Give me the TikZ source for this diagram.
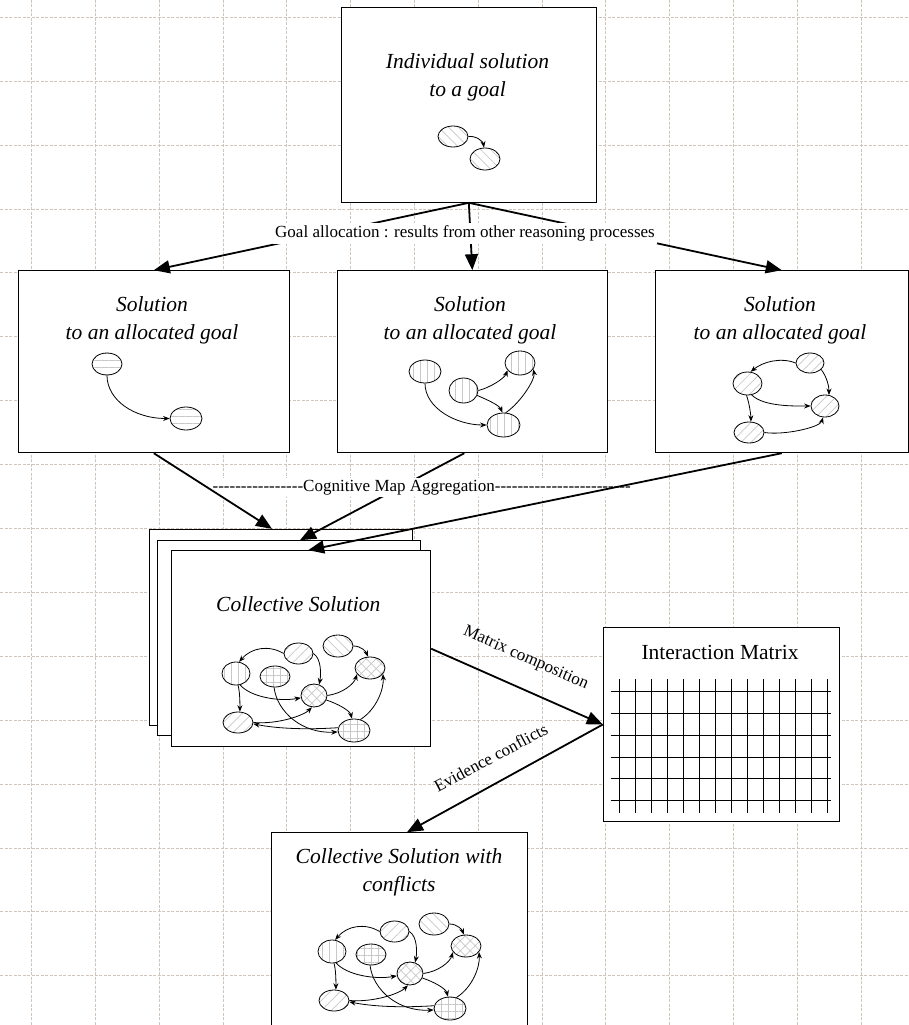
\documentclass[tikz,border=0pt]{standalone}
\usepackage{fontspec}
\setmainfont{Liberation Serif}
\usetikzlibrary{arrows.meta,shapes.geometric,patterns.meta}
\definecolor{gridc}{RGB}{208,197,186}
\definecolor{hatchc}{RGB}{200,200,200}
\newcommand\hyphs[1]{\foreach \k in {1,...,#1}{-\kern0pt}}
\tikzset{
 gridl/.style={draw=gridc, line width=0.9pt, dash pattern=on 3pt off 1.5pt},
 box/.style={draw=black, line width=1pt, fill=white, inner sep=0pt, rectangle},
 el/.style={draw=black, ellipse, line width=0.8pt, inner sep=0pt},
 pL/.style={pattern={Lines[angle=#1,distance=7pt,line width=0.7pt]}, pattern color=hatchc},
 pH/.style={pattern={Hatch[angle=#1,distance=7pt,line width=0.7pt]}, pattern color=hatchc},
 big/.style={line width=1.8pt, -{Triangle[length=16pt,width=13pt]}},
 sm/.style={line width=0.8pt, -{Stealth[length=6.5pt,width=5pt]}},
 ttl/.style={font=\fontsize{21.5}{28}\selectfont\itshape, align=center, inner sep=0pt},
 lbl/.style={font=\fontsize{17}{20}\selectfont, inner sep=0pt},
}
\newcommand\collgraph[2]{%
 \begin{scope}[shift={#2}]
 \node[el,pL=45,minimum width=29pt,minimum height=21pt] (#1c1) at (298.5,653.5) {};
 \node[el,pL=-45,minimum width=30pt,minimum height=22pt] (#1c2) at (338,646) {};
 \node[el,pL=90,minimum width=28pt,minimum height=23pt] (#1c3) at (236,673.5) {};
 \node[el,pH=0,minimum width=30pt,minimum height=21pt] (#1c4) at (275,676.5) {};
 \node[el,pH=45,minimum width=30pt,minimum height=22pt] (#1c5) at (370,668) {};
 \node[el,pH=45,minimum width=26pt,minimum height=23pt] (#1c6) at (314,695.5) {};
 \node[el,pL=45,minimum width=30pt,minimum height=21pt] (#1c7) at (238,722.5) {};
 \node[el,pH=0,minimum width=32pt,minimum height=23pt] (#1c8) at (354,730.5) {};
 \draw[sm] (#1c1.west) .. controls +(-15,-9) and +(12,-14) .. (#1c3.75);
 \draw[sm] (#1c1.east) .. controls +(8,5) and +(2,-10) .. (#1c6.65);
 \draw[sm] (#1c2.east) .. controls +(8,0) and +(-2,-5) .. (#1c5.100);
 \draw[sm] (#1c3.-80) .. controls +(2,8) and +(0,-8) .. (#1c7.80);
 \draw[sm] (#1c3.-70) .. controls +(10,12) and +(-22,4) .. (#1c6.190);
 \draw[sm] (#1c4.-95) .. controls +(3,25) and +(-35,2) .. (#1c8.185);
 \draw[sm] (#1c6.east) .. controls +(15,-2) and +(-3,10) .. (#1c5.-155);
 \draw[sm] (#1c6.-20) .. controls +(12,4) and +(-2,-8) .. (#1c8.100);
 \draw[sm] (#1c8.60) .. controls +(16,-10) and +(1,15) .. (#1c5.-25);
 \draw[sm] (#1c7.east) .. controls +(25,2) and +(-8,8) .. (#1c6.-100);
 \draw[sm] (#1c8.170) .. controls +(-30,2) and +(25,5) .. (#1c7.-5);
 \end{scope}}
\begin{document}
\begin{tikzpicture}[x=1pt,y=-1pt]
\useasboundingbox (0,0) rectangle (909,1025);
% grid
\foreach \i in {0,...,13} \draw[gridl] ({31.7+63.8*\i},0) -- ({31.7+63.8*\i},1025);
\foreach \j in {0,...,15} \draw[gridl] (0,{17.3+63.9*\j}) -- (909,{17.3+63.9*\j});
% boxes
\node[box,minimum width=254.3pt,minimum height=195pt] (top) at (468.85,104.8) {};
\node[box,minimum width=271pt,minimum height=182pt] (b1) at (153.8,361.7) {};
\node[box,minimum width=270pt,minimum height=182pt] (b2) at (472.3,361.7) {};
\node[box,minimum width=253.5pt,minimum height=182pt] (b3) at (781.75,361.7) {};
\node[box,minimum width=263.4pt,minimum height=195.7pt] (back) at (281,627.15) {};
\node[box,minimum width=263.4pt,minimum height=194.3pt] (mid) at (289,637.85) {};
\node[box,minimum width=259pt,minimum height=196pt] (front) at (301.2,648.7) {};
\node[box,minimum width=235.7pt,minimum height=194.4pt] (mat) at (721.15,724.5) {};
\node[box,minimum width=256pt,minimum height=207.3pt] (b4) at (399,936.35) {};
% goal allocation arrows
\draw[big] (top.south) -- (b1.north);
\draw[big] (top.south) -- (b2.north);
\draw[big] (top.south) -- (b3.north);
\node[lbl,fill=white,inner sep=2.5pt,anchor=base] (goal) at (465,237.7) {Goal allocation : results from other reasoning processes};
% aggregation arrows
\draw[big] ([xshift=-8pt]b2.south) -- ([xshift=11pt]mid.north);
\node[lbl,fill=white,inner sep=2pt,anchor=base] (cma) at (421.7,491.7) {\hyphs{16}Cognitive Map Aggregation\hyphs{24}};
\draw[big] (b1.south) -- ([xshift=-9pt]back.north);
\draw[big] (b3.south) -- ([xshift=7pt]front.north);
% matrix arrows
\draw[big] (front.east) -- (mat.west);
\draw[big] (mat.west) -- ([xshift=8pt]b4.north);
\node[lbl,rotate=-23.7] (mc) at (525.7,658.3) {Matrix composition};
\node[lbl,rotate=28.2] (ec) at (490.8,757.5) {Evidence conflicts};
% matrix grid
\foreach \i in {0,...,13} \draw[line width=1pt] ({619.3+16*\i},679.3) -- ({619.3+16*\i},813.3);
\foreach \j in {0,...,5} \draw[line width=1pt] (610.7,{691.7+21.8*\j}) -- (831,{691.7+21.8*\j});
% texts
\node[ttl] (ttop) at (467.5,77.7) {Individual solution\\to a goal};
\node[ttl] (t1) at (152,320.5) {Solution\\to an allocated goal};
\node[ttl] (t2) at (470,320.5) {Solution\\to an allocated goal};
\node[ttl] (t3) at (780,320.5) {Solution\\to an allocated goal};
\node[ttl,anchor=base] (tc) at (298.3,611) {Collective Solution};
\node[ttl] (t4) at (399,872.4) {Collective Solution with\\conflicts};
\node[font=\fontsize{21.5}{28}\selectfont,inner sep=0pt,anchor=base] (tm) at (720,659) {Interaction Matrix};
% top graph
\node[el,pL=-45,minimum width=30pt,minimum height=21pt] (ta) at (453,136.5) {};
\node[el,pL=-45,minimum width=30pt,minimum height=22pt] (tb) at (485,159) {};
\draw[sm] (ta.east) .. controls +(8,-1) and +(-1,-6) .. (tb.95);
% box 1 graph
\node[el,pL=0,minimum width=30pt,minimum height=22pt] (aa) at (107,364) {};
\node[el,pL=0,minimum width=32pt,minimum height=23pt] (ab) at (186,418.5) {};
\draw[sm] (aa.south) .. controls +(0,25) and +(-35,0) .. (ab.west);
% box 2 graph
\node[el,pL=90,minimum width=32pt,minimum height=23pt] (e1) at (425,371.5) {};
\node[el,pL=90,minimum width=29pt,minimum height=25pt] (e2) at (463.5,390.5) {};
\node[el,pL=90,minimum width=30pt,minimum height=24pt] (e3) at (520,363) {};
\node[el,pL=90,minimum width=33pt,minimum height=24pt] (e4) at (503.5,425) {};
\draw[sm] (e1.south) .. controls +(0,25) and +(-30,0) .. (e4.west);
\draw[sm] (e2.east) .. controls +(12,-3) and +(-3,8) .. (e3.-150);
\draw[sm] (e2.-20) .. controls +(12,5) and +(-3,-7) .. (e4.95);
\draw[sm] (e4.80) .. controls +(15,-10) and +(2,10) .. (e3.-25);
% box 3 graph
\node[el,pL=45,minimum width=28pt,minimum height=20pt] (f1) at (810,363) {};
\node[el,pL=45,minimum width=29pt,minimum height=23pt] (f2) at (747.5,383.5) {};
\node[el,pL=45,minimum width=28pt,minimum height=22pt] (f3) at (825,406) {};
\node[el,pL=45,minimum width=30pt,minimum height=21pt] (f4) at (749,432.5) {};
\draw[sm] (f1.west) .. controls +(-15,-6) and +(12,-10) .. (f2.75);
\draw[sm] (f1.-30) .. controls +(6,8) and +(0,-8) .. (f3.70);
\draw[sm] (f2.-95) .. controls +(3,8) and +(0,-6) .. (f4.80);
\draw[sm] (f2.-70) .. controls +(12,12) and +(-15,0) .. (f3.west);
\draw[sm] (f4.east) .. controls +(20,3) and +(-3,10) .. (f3.-100);
% collective graphs
\collgraph{p}{(0,0)}
\collgraph{q}{(96,278)}
\end{tikzpicture}
\end{document}
